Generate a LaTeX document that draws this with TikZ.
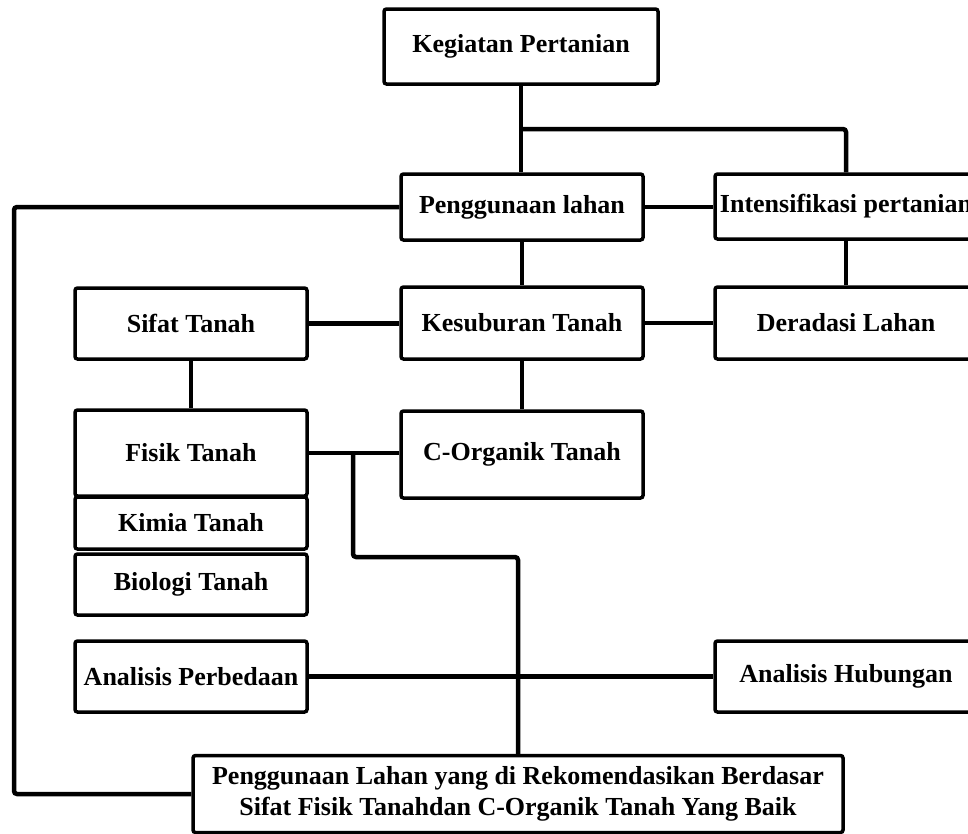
\documentclass[tikz,border=0pt]{standalone}
\usepackage{fontspec}
\setmainfont{Liberation Serif}
\tikzset{
  box/.style={draw, line width=3.5pt, rounded corners=2.5pt, inner sep=0pt, align=center,
    font=\bfseries\fontsize{26}{31}\selectfont},
  conn/.style={line width=4.5pt, rounded corners=3pt},
}
\begin{document}
\begin{tikzpicture}[x=1pt,y=-1pt]
\useasboundingbox (0,0) rectangle (968,833);
\clip (0,0) rectangle (968,833);
\node[box, minimum width=274pt, minimum height=75pt] (keg) at (521,46.5) {Kegiatan Pertanian};
\node[box, minimum width=242pt, minimum height=66pt] (peng) at (522,207) {Penggunaan lahan};
\node[box, minimum width=262pt, minimum height=65pt] (inten) at (846,206.5) {Intensifikasi pertanian};
\node[box, minimum width=232pt, minimum height=71pt] (sifat) at (191,323.5) {Sifat Tanah};
\node[box, minimum width=242pt, minimum height=72pt] (kesub) at (522,323) {Kesuburan Tanah};
\node[box, minimum width=262pt, minimum height=72pt] (derad) at (846,323) {Deradasi Lahan};
\node[box, minimum width=232pt, minimum height=86pt] (fisik) at (191,453) {Fisik Tanah};
\node[box, minimum width=232pt, minimum height=52pt] (kimia) at (191,523) {Kimia Tanah};
\node[box, minimum width=232pt, minimum height=61pt] (bio) at (191,584.5) {Biologi Tanah};
\node[box, minimum width=242pt, minimum height=87pt] (corg) at (522,454.5) {C-Organik Tanah};
\node[box, minimum width=232pt, minimum height=71pt] (anaP) at (191,676.5) {Analisis Perbedaan};
\node[box, minimum width=262pt, minimum height=71pt] (anaH) at (846,676.5) {Analisis Hubungan};
\node[box, minimum width=650pt, minimum height=77pt] (rek) at (518,794) {Penggunaan Lahan yang di Rekomendasikan Berdasar\\Sifat Fisik Tanahdan C-Organik Tanah Yang Baik};

\coordinate (b1) at (522,129);
\coordinate (L) at (14,0);
\coordinate (b2) at (353,453);
\coordinate (b3) at (518,557);

\draw[conn] (keg.south) -- (keg.south |- peng.north);
\draw[conn] (b1) -| (inten.north);
\draw[conn] (peng.east) -- (peng.east -| inten.west);
\draw[conn] (peng.west) -- (L |- peng.west) -- (L |- rek.west) -- (rek.west);
\draw[conn] (peng.south) -- (kesub.north);
\draw[conn] (inten.south) -- (derad.north);
\draw[conn] (sifat.east -| sifat.east) -- (sifat.east -| kesub.west);
\draw[conn] (kesub.east) -- (derad.west);
\draw[conn] (sifat.south) -- (fisik.north);
\draw[conn] (kesub.south) -- (corg.north);
\draw[conn] (fisik.east) -- (fisik.east -| corg.west);
\draw[conn] (b2) |- (b3) -- (rek.north);
\draw[conn] (anaP.east) -- (anaH.west);
\end{tikzpicture}
\end{document}
